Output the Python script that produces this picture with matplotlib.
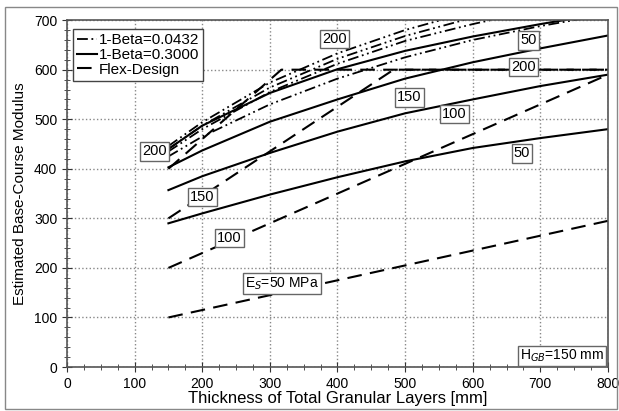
import matplotlib
matplotlib.use("Agg")
import matplotlib.pyplot as plt
from matplotlib.patches import Rectangle
from matplotlib.ticker import MultipleLocator

plt.rcParams['font.family'] = ['Liberation Sans', 'DejaVu Sans']

# Thickness of total granular layers [mm]
h = [150, 200, 300, 400, 500, 600, 700, 800]

# 1-Beta = 0.3000 (solid)
sol_50 = [290, 310, 348, 383, 415, 442, 462, 480]
sol_100 = [357, 385, 432, 475, 512, 540, 567, 590]
sol_150 = [403, 437, 495, 540, 582, 615, 643, 669]
sol_200 = [440, 487, 553, 601, 638, 667, 692, 715]

# 1-Beta = 0.0432 (dash-dot-dot)
b_50 = [425, 465, 530, 582, 625, 660, 688, 712]
b_100 = [435, 480, 555, 612, 658, 692, 722, 748]
b_150 = [440, 487, 564, 622, 668, 705, 737, 765]
b_200 = [446, 494, 574, 633, 680, 718, 750, 780]

# Flex-Design (dashed)
fd_h50 = [150, 800]
fd_50 = [100, 295]
fd_h100 = [150, 800]
fd_100 = [200, 590]
fd_h150 = [150, 483, 800]
fd_150 = [300, 600, 600]
fd_h200 = [150, 317, 800]
fd_200 = [400, 600, 600]

fig = plt.figure(figsize=(6.19, 4.11), dpi=100)
ax = fig.add_axes([0.1082, 0.107, 0.874, 0.844])

dd = (0, (6, 2, 1, 2, 1, 2))
for y in (b_50, b_100, b_150, b_200):
    ax.plot(h, y, color="black", lw=1.3, linestyle=dd)
for y in (sol_50, sol_100, sol_150, sol_200):
    ax.plot(h, y, color="black", lw=1.5, linestyle="-")
ax.plot(fd_h50, fd_50, color="black", lw=1.5, linestyle=(0, (7, 4)))
ax.plot(fd_h100, fd_100, color="black", lw=1.5, linestyle=(0, (7, 4)))
ax.plot(fd_h150, fd_150, color="black", lw=1.5, linestyle=(0, (7, 4)))
ax.plot(fd_h200, fd_200, color="black", lw=1.5, linestyle=(0, (7, 4)))

# legend proxies
l1, = ax.plot([], [], color="black", lw=1.3, linestyle=dd)
l2, = ax.plot([], [], color="black", lw=1.5, linestyle="-")
l3, = ax.plot([], [], color="black", lw=1.5, linestyle=(0, (7, 4)))
leg = ax.legend([l1, l2, l3], ["1-Beta=0.0432", "1-Beta=0.3000", "Flex-Design"],
                loc="upper left", bbox_to_anchor=(0.006, 0.982), fontsize=11,
                handlelength=1.3, handletextpad=0.15, labelspacing=0.05,
                borderpad=0.25, borderaxespad=0.2,
                fancybox=False, framealpha=1, edgecolor="#444444")
leg.get_frame().set_linewidth(1.0)

ax.set_xlim(0, 800)
ax.set_ylim(0, 700)
ax.xaxis.set_major_locator(MultipleLocator(100))
ax.xaxis.set_minor_locator(MultipleLocator(25))
ax.yaxis.set_major_locator(MultipleLocator(100))
ax.yaxis.set_minor_locator(MultipleLocator(20))
ax.tick_params(which="both", direction="inout", labelsize=10, color="#333333")
ax.tick_params(which="major", length=7)
ax.tick_params(which="minor", length=5)
ax.grid(True, which="major", color="#888888", linestyle=":", lw=1.0)
for s in ax.spines.values():
    s.set_color("#555555")
    s.set_linewidth(1.2)

ax.set_xlabel("Thickness of Total Granular Layers [mm]", fontsize=12, labelpad=0)
ax.set_ylabel("Estimated Base-Course Modulus", fontsize=11, labelpad=5)

bb = dict(boxstyle="square,pad=0.15", fc="white", ec="#666666", lw=1.0)
labels = [
    (130, 435, "200"), (395, 662, "200"), (683, 659, "50"),
    (675, 605, "200"), (506, 544, "150"), (573, 510, "100"),
    (673, 431, "50"), (200, 343, "150"), (240, 260, "100"),
]
for x, y, t in labels:
    ax.text(x, y, t, fontsize=10.5, ha="center", va="center", bbox=bb, zorder=5)
ax.text(318, 168, "E$_S$=50 MPa", fontsize=10, ha="center", va="center",
        bbox=bb, zorder=5)
ax.text(794, 22, "H$_{GB}$=150 mm", fontsize=10, ha="right", va="center",
        bbox=bb, zorder=5)

fig.patches.append(Rectangle((0.008, 0.005), 0.988, 0.978, transform=fig.transFigure,
                             fill=False, ec="#888888", lw=1.0))

fig.savefig("out.png", dpi=100)
